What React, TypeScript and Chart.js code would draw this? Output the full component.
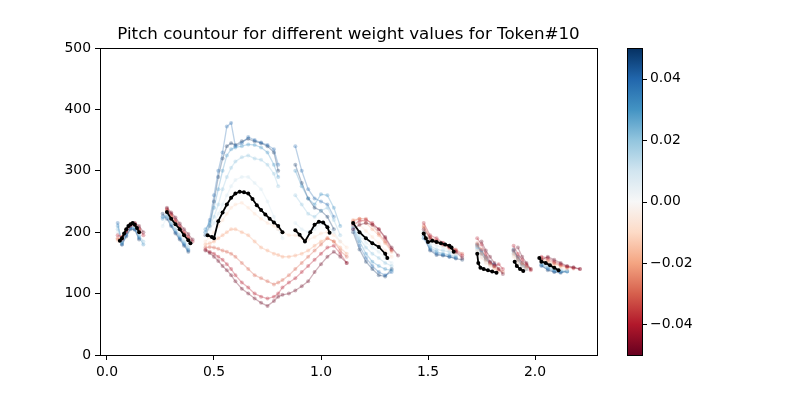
import { useEffect, useRef } from "react";
import { Chart, registerables } from "chart.js";

Chart.register(...registerables);

const _ = null;

// Time grid (seconds) for each voiced segment
const TIME_A = [0.05, 0.07, 0.09, 0.11, 0.13, 0.15, 0.17];
const TIME_B = [0.26, 0.28, 0.3, 0.32, 0.34, 0.36, 0.38, 0.4];
const TIME_CD = [0.46, 0.48, 0.5, 0.52, 0.54, 0.56, 0.58, 0.6, 0.63, 0.66, 0.69, 0.72, 0.75, 0.78, 0.8, 0.82, 0.85, 0.88, 0.91, 0.94, 0.97, 1.0, 1.03, 1.06, 1.09, 1.12];
const TIME_E = [1.15, 1.18, 1.21, 1.24, 1.27, 1.3, 1.33, 1.36];
const TIME_F = [1.48, 1.51, 1.54, 1.57, 1.6, 1.63, 1.66];
const TIME_G = [1.73, 1.75, 1.77, 1.79, 1.81, 1.83, 1.85];
const TIME_H = [1.9, 1.92, 1.94, 1.96, 1.98];
const TIME_I = [2.03, 2.06, 2.09, 2.12, 2.15, 2.18, 2.21];
const SEGMENT_TIMES = [TIME_A, TIME_B, TIME_CD, TIME_E, TIME_F, TIME_G, TIME_H, TIME_I];

const WEIGHTS = [-0.05, -0.04, -0.03, -0.02, -0.01, 0.01, 0.02, 0.03, 0.04, 0.05];

const PITCH_N050 = [
  [_, 188, 200, 210, 215, 210, 200],
  [_, 240, 232, 224, 214, 205, 197, 188],
  [170, 166, 160, 153, 145, 138, 130, 120, 108, 100, 92, 85, 80, 88, 95, 98, 100, 105, 112, 120, 135, 148, 160, 168, 160, 150],
  [205, 212, 215, 212, 205, 192, 175, 162],
  [205, 190, 185, 180, 175, 168, 158],
  [_, 185, 170, 160, 150, 140, 132],
  [_, 175, 160, 150, 140],
  [155, 160, 155, 150, 145, 143, 140],
];
const PITCH_N040 = [
  [195, 192, 203, 212, 214, 206, 195],
  [_, 238, 230, 220, 210, 200, 192, 185],
  [172, 168, 165, 160, 155, 148, 140, 130, 118, 110, 100, 95, 92, 95, 100, 110, 118, 125, 135, 145, 155, 165, 175, 178, 165, 150],
  [212, 218, 220, 215, 205, 190, 172],
  [215, 195, 190, 183, 178, 170, 162],
  [190, 180, 165, 152, 145, 148, 140],
  [178, 165, 155, 148, 138],
  [160, 158, 152, 148, 144, 142, 140],
];
const PITCH_N030 = [
  [190, 190, 202, 212, 213, 204],
  [_, 236, 228, 218, 208, 198, 190],
  [175, 176, 175, 173, 170, 168, 165, 160, 150, 140, 130, 125, 120, 115, 118, 122, 130, 140, 150, 160, 170, 180, 190, 185, 170, 160],
  [218, 222, 222, 212, 198, 185, 170],
  [210, 192, 186, 182, 176, 172, 165],
  [182, 172, 160, 150, 145, 140, 135],
  [170, 160, 150, 145, 140],
  [158, 155, 150, 146, 143, 141],
];
const PITCH_N020 = [
  [188, 192, 204, 213, 212, 202],
  [_, 235, 225, 215, 205, 196, 188],
  [180, 182, 185, 190, 195, 200, 205, 205, 200, 195, 185, 175, 170, 165, 163, 160, 160, 162, 165, 170, 178, 185, 190, 185, 175, 165],
  [220, 222, 215, 205, 195, 182, 168],
  [208, 190, 185, 180, 175, 168],
  [178, 165, 155, 148, 142, 138],
  [165, 155, 148, 142],
  [155, 152, 148, 145, 142],
];
const PITCH_N010 = [
  [186, 193, 205, 214, 212, 200],
  [_, 234, 223, 214, 205, 196, 188],
  [185, 192, 200, 210, 220, 230, 240, 245, 248, 240, 230, 222, 215, 210, 205, 200, 195, 195, 190, 188, 192, 198, 200, 195, 185, 175],
  [218, 212, 202, 192, 182, 170, 160],
  [200, 186, 182, 178, 172, 165],
  [170, 158, 150, 145, 140, 136],
  [160, 150, 143, 140],
  [155, 150, 145, 142, 140],
];
const PITCH_P010 = [
  [200, 190, 203, 212, 210, 198],
  [210, 225, 215, 205, 196, 188, 180],
  [198, 205, 215, 230, 245, 260, 275, 285, 290, 290, 280, 270, 250, 225, 205, 190, _, 215, 205, 200, 205, 215, 210, 200, 185],
  [212, 195, 183, 175, 168, 158, 150],
  [195, 182, 178, 175, 170, 165],
  [168, 160, 152, 146, 142],
  [162, 150, 142, 140],
  [152, 146, 142, 140, 138],
];
const PITCH_P020 = [
  [205, 185, 200, 210, 208, 195, 185],
  [225, 228, 216, 205, 195, 185, 176],
  [200, 210, 225, 245, 270, 290, 305, 315, 322, 325, 320, 318, 310, 295, 275, _, _, 260, 245, 230, 225, 235, 240, 220, 195],
  [210, 190, 175, 165, 158, 150, 145],
  [192, 178, 172, 170, 168, 162],
  [172, 165, 158, 150, 145],
  [165, 155, 145, 142],
  [150, 144, 140, 138, 137],
];
const PITCH_P030 = [
  [210, 183, 198, 208, 207, 192, 180],
  [222, 226, 214, 203, 192, 182, 172],
  [205, 215, 240, 270, 300, 325, 335, 338, 340, 343, 342, 338, 330, 310, 290, _, _, 300, 275, 255, 245, 262, 260, 240, 210],
  [208, 185, 165, 152, 145, 140, 138],
  [200, 175, 168, 165, 163, 160],
  [175, 168, 160, 152, 146],
  [168, 158, 148, 142],
  [148, 142, 138, 136, 136],
];
const PITCH_P040 = [
  [215, 180, 195, 207, 205, 190],
  [225, 224, 212, 200, 190, 180, 170],
  [200, 220, 260, 300, 330, 372, 378, 340, 345, 355, 350, 346, 342, 335, 310, _, _, 340, 300, 270, 255, 250, 245, 225],
  [205, 178, 158, 145, 135, 130, 135],
  [190, 172, 165, 163, 160, 158],
  [178, 170, 158, 150, 148],
  [170, 160, 150, 143],
  [145, 140, 136, 135, 136],
];
const PITCH_P050 = [
  [_, 180, 193, 205, 204, 188],
  [230, 222, 210, 198, 188, 178, 168],
  [195, 210, 250, 290, 320, 340, 345, 342, 348, 352, 348, 345, 340, 330, 300, _, _, 310, 280, 255, 240, 235, 225, 205],
  [200, 172, 152, 140, 130, 128, 140],
  [195, 170, 163, 162, 160, 157, 155],
  [180, 165, 155, 150, 145],
  [172, 155, 145, 140],
  [146, 138, 135, 134, 137],
];
const PITCH_BY_WEIGHT = [PITCH_N050, PITCH_N040, PITCH_N030, PITCH_N020, PITCH_N010, PITCH_P010, PITCH_P020, PITCH_P030, PITCH_P040, PITCH_P050];

// Weight 0 (reference contour, black)
const BASE_TIMES = [
  [0.06, 0.07, 0.08, 0.09, 0.1, 0.11, 0.12, 0.13, 0.14, 0.15],
  [0.28, 0.3, 0.32, 0.34, 0.36, 0.38, 0.39],
  [0.47, 0.49, 0.5, 0.52, 0.54, 0.56, 0.58, 0.6, 0.62, 0.64, 0.66, 0.68, 0.7, 0.72, 0.74, 0.76, 0.78, 0.8, 0.82],
  [0.88, 0.9, 0.925, 0.95, 0.97, 0.99, 1.01, 1.03, 1.04],
  [1.15, 1.18, 1.21, 1.24, 1.27, 1.3, 1.31],
  [1.48, 1.49, 1.5, 1.52, 1.54, 1.56, 1.58, 1.6, 1.61, 1.62],
  [1.73, 1.735, 1.745, 1.76, 1.78, 1.8, 1.82],
  [1.905, 1.915, 1.93, 1.945],
  [2.02, 2.03, 2.05, 2.07, 2.09, 2.11],
];
const BASE_PITCH = [
  [186, 190, 198, 205, 210, 213, 215, 212, 207, 200],
  [233, 222, 213, 205, 195, 187, 182],
  [195, 192, 190, 218, 232, 245, 256, 263, 266, 265, 263, 254, 244, 236, 229, 222, 216, 210, 200],
  [203, 196, 185, 200, 212, 217, 216, 208, 199],
  [215, 200, 190, 182, 176, 165, 158],
  [198, 190, 184, 186, 184, 182, 180, 178, 175, 168],
  [165, 150, 142, 140, 138, 136, 134],
  [152, 145, 140, 137],
  [158, 152, 150, 146, 142, 138],
];

const X_MIN = -0.0327;
const X_MAX = 2.2897;
const Y_MIN = 0;
const Y_MAX = 500;
const CBAR_MIN = -0.05;
const CBAR_MAX = 0.05;
const CBAR_TICKS = [-0.04, -0.02, 0.0, 0.02, 0.04];
const TITLE = "Pitch countour for different weight values for Token#10";

const RDBU = ["#67001f", "#b2182b", "#d6604d", "#f4a582", "#fddbc7", "#f7f7f7", "#d1e5f0", "#92c5de", "#4393c3", "#2166ac", "#053061"];
const FONT = "'DejaVu Sans', 'Liberation Sans', sans-serif";

function hexToRgb(h: string) {
  return [parseInt(h.slice(1, 3), 16), parseInt(h.slice(3, 5), 16), parseInt(h.slice(5, 7), 16)];
}
function cmap(t: number) {
  const p = Math.max(0, Math.min(1, t)) * (RDBU.length - 1);
  const i = Math.min(RDBU.length - 2, Math.floor(p));
  const f = p - i;
  const a = hexToRgb(RDBU[i]);
  const b = hexToRgb(RDBU[i + 1]);
  return a.map((v, k) => Math.round(v + (b[k] - v) * f));
}

function toPoints(times: number[][], values: (number | null)[][]) {
  const pts: { x: number; y: number | null }[] = [];
  times.forEach((seg, si) => {
    if (si > 0) pts.push({ x: seg[0], y: null });
    seg.forEach((t, i) => {
      const v = values[si] ? values[si][i] : null;
      pts.push({ x: t, y: v == null ? null : v });
    });
  });
  return pts;
}

const decorPlugin = {
  id: "decor",
  afterDraw(chart: any) {
    const { ctx, chartArea: a } = chart;
    ctx.save();
    // frame
    ctx.strokeStyle = "#000";
    ctx.lineWidth = 1;
    ctx.strokeRect(Math.round(a.left) + 0.5, Math.round(a.top) + 0.5, Math.round(a.right - a.left), Math.round(a.bottom - a.top));
    // title
    ctx.fillStyle = "#000";
    ctx.font = `16.7px ${FONT}`;
    ctx.textAlign = "center";
    ctx.textBaseline = "alphabetic";
    ctx.fillText(TITLE, (a.left + a.right) / 2, a.top - 9);
    // colorbar
    const cx0 = 627, cx1 = 642, cy0 = a.top, cy1 = a.bottom;
    const g = ctx.createLinearGradient(0, cy1, 0, cy0);
    RDBU.forEach((c, i) => g.addColorStop(i / (RDBU.length - 1), c));
    ctx.fillStyle = g;
    ctx.fillRect(cx0, cy0, cx1 - cx0, cy1 - cy0);
    ctx.strokeRect(cx0 + 0.5, Math.round(cy0) + 0.5, cx1 - cx0, Math.round(cy1 - cy0));
    ctx.font = `13.9px ${FONT}`;
    ctx.textAlign = "left";
    ctx.textBaseline = "middle";
    ctx.fillStyle = "#000";
    CBAR_TICKS.forEach((v) => {
      const y = cy1 - ((v - CBAR_MIN) / (CBAR_MAX - CBAR_MIN)) * (cy1 - cy0);
      const yy = Math.round(y) + 0.5;
      ctx.beginPath();
      ctx.moveTo(cx1 + 1, yy);
      ctx.lineTo(cx1 + 5, yy);
      ctx.stroke();
      const label = (v < 0 ? "\u2212" : "") + Math.abs(v).toFixed(2);
      ctx.fillText(label, cx1 + 8, y);
    });
    ctx.restore();
  },
};

export default function App() {
  const ref = useRef<HTMLCanvasElement | null>(null);
  useEffect(() => {
    if (!ref.current) return;
    const colored = WEIGHTS.map((w, k) => {
      const [r, g, b] = cmap((w - CBAR_MIN) / (CBAR_MAX - CBAR_MIN));
      const col = `rgba(${r},${g},${b},0.3)`;
      return {
        label: `w=${w}`,
        data: toPoints(SEGMENT_TIMES, PITCH_BY_WEIGHT[k]),
        showLine: true,
        borderColor: col,
        backgroundColor: col,
        pointBackgroundColor: col,
        borderWidth: 1.3,
        pointRadius: 2,
        pointBorderWidth: 0,
        spanGaps: false,
        order: 1,
      };
    });
    const base = {
      label: "w=0",
      data: toPoints(BASE_TIMES, BASE_PITCH),
      showLine: true,
      borderColor: "#000",
      backgroundColor: "#000",
      pointBackgroundColor: "#000",
      borderWidth: 1.8,
      pointRadius: 2,
      pointBorderWidth: 0,
      spanGaps: false,
      order: 0,
    };
    const tickFont = { family: FONT, size: 13.9 };
    const chart = new Chart(ref.current, {
      type: "scatter",
      data: { datasets: [base, ...colored] as any },
      options: {
        responsive: false,
        animation: false,
        layout: { padding: { left: 0, right: 203, top: 48, bottom: 0 } },
        plugins: { legend: { display: false }, tooltip: { enabled: false }, title: { display: false } },
        scales: {
          x: {
            type: "linear",
            min: X_MIN,
            max: X_MAX,
            afterFit: (s: any) => { s.height = 45; },
            ticks: {
              stepSize: 0.5,
              includeBounds: false,
              autoSkip: false,
              maxRotation: 0,
              color: "#000",
              font: tickFont,
              padding: 4,
              callback: (v: any) => Number(v).toFixed(1),
            },
            grid: { drawOnChartArea: false, drawTicks: true, tickLength: 5, tickColor: "#000" },
            border: { display: true, color: "#000" },
          },
          y: {
            type: "linear",
            min: Y_MIN,
            max: Y_MAX,
            afterFit: (s: any) => { s.width = 100; },
            ticks: {
              stepSize: 100,
              color: "#000",
              font: tickFont,
              padding: 4,
              callback: (v: any) => String(v),
            },
            grid: { drawOnChartArea: false, drawTicks: true, tickLength: 5, tickColor: "#000" },
            border: { display: true, color: "#000" },
          },
        },
      } as any,
      plugins: [decorPlugin],
    });
    return () => chart.destroy();
  }, []);
  return (
    <div style={{ position: "absolute", left: 0, top: 0, width: 800, height: 400, background: "#fff" }}>
      <canvas ref={ref} width={800} height={400} style={{ width: 800, height: 400 }} />
    </div>
  );
}
